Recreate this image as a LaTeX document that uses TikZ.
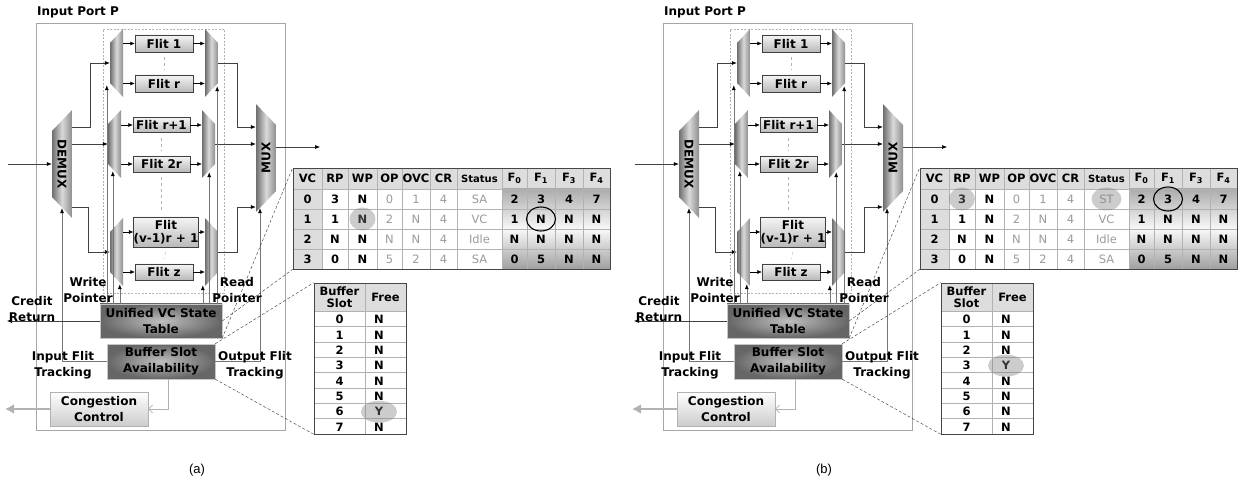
\documentclass[tikz,border=0pt]{standalone}
\usepackage{fontspec}
\setmainfont{DejaVu Sans}
\newfontfamily\capfont{Liberation Sans}
\usetikzlibrary{arrows.meta,positioning,shapes.geometric}
\definecolor{portline}{HTML}{A6A6A6}
\definecolor{wiregray}{HTML}{404040}
\definecolor{ptrline}{HTML}{767676}
\definecolor{cellfill}{HTML}{DDDDDD}
\definecolor{softtext}{HTML}{9A9A9A}
\definecolor{metal}{HTML}{6E6E6E}
\definecolor{metalr}{HTML}{8E8E8E}

\begin{document}
\begin{tikzpicture}[x=1pt, y=-1pt, font=\fontsize{12}{16}\selectfont\bfseries,
  portbox/.style={draw=portline, line width=0.8pt},
  vcbox/.style={draw=gray!60, line width=0.5pt, dash pattern=on 2pt off 1.5pt},
  flit/.style={draw=wiregray, top color=gray!8, bottom color=gray!55, minimum width=58pt, minimum height=17pt, inner sep=0pt, align=center},
  dmx/.style={minimum width=13pt, minimum height=68pt, inner sep=0pt, path picture={\shade[left color=metal, right color=metalr, middle color=gray!30] ([yshift=-#1]path picture bounding box.north west) -- (path picture bounding box.north east) -- (path picture bounding box.south east) -- ([yshift=#1]path picture bounding box.south west) -- cycle;}},
  mx/.style={minimum width=13pt, minimum height=68pt, inner sep=0pt, path picture={\shade[left color=metal, right color=metalr, middle color=gray!30] (path picture bounding box.north west) -- ([yshift=-#1]path picture bounding box.north east) -- ([yshift=#1]path picture bounding box.south east) -- (path picture bounding box.south west) -- cycle;}},
  darkbox/.style={draw=gray!45, inner color=gray!50, outer color=gray!80!black, align=center, inner sep=1pt},
  lightbox/.style={draw=gray!60, top color=white, bottom color=gray!40, align=center, inner sep=1pt},
  wire/.style={draw=wiregray, line width=0.6pt, -{Latex[length=5pt,width=4pt,color=black]}},
  tip/.style={draw=black, line width=0.5pt, -{Latex[length=4.5pt,width=4pt]}},
  ptr/.style={draw=ptrline, line width=0.6pt, -{Latex[length=5pt,width=4pt,color=black]}},
  flitgap/.style={draw=gray!60, dashed, shorten <=5pt, shorten >=5pt},
  openarr/.style={draw=gray!60, line width=0.6pt, -{Straight Barb[length=4pt,width=8pt]}},
  fatarr/.style={draw=gray!60, line width=2.6pt, -{Latex[length=9pt,width=10pt]}},
  tblline/.style={draw=gray!60, line width=0.5pt},
  tbl/.style={draw=gray!55!black, line width=0.6pt},
  tcell/.style={inner sep=0pt, font=\fontsize{11.5}{13}\selectfont\bfseries},
  tsoft/.style={inner sep=0pt, font=\fontsize{11.5}{13}\selectfont, text=softtext},
  hlfill/.style={ellipse, fill=gray, fill opacity=0.4, minimum width=26pt, minimum height=23pt, inner sep=0pt},
  hlring/.style={ellipse, draw=black, line width=1.1pt, minimum width=29pt, minimum height=24pt, inner sep=0pt},
  callout/.style={draw=gray!40!black, densely dashed, line width=0.4pt},
  lbl/.style={align=center, inner sep=0pt}]
\useasboundingbox (0,0) rectangle (1254,489);
\foreach \p/\dx/\st/\fy in {a/0/SA/6, b/627/ST/3}{
\begin{scope}[xshift=\dx pt]
% port frame
\node[portbox, minimum width=249pt, minimum height=407pt] (\p-port) at (160.5,226.5) {};
\node[vcbox, minimum width=121pt, minimum height=264pt] (\p-vcbuf) at (163.5,161) {};
\node[anchor=west, inner sep=0pt] (\p-title) at (37,12) {Input Port P};
% demux and mux
\node[dmx=21pt, minimum width=20pt, minimum height=108pt] (\p-demux) at (62,164) {\rotatebox{-90}{DEMUX}};
\node[mx=21pt, minimum width=20pt, minimum height=108pt] (\p-mux) at (266,158) {\rotatebox{90}{MUX}};
\node[dmx=14pt] (\p-d1) at (116.5,63) {};
\node[dmx=14pt] (\p-d2) at (114.5,144) {};
\node[dmx=14pt] (\p-d3) at (116.5,252) {};
\node[mx=14pt] (\p-m1) at (211.5,63) {};
\node[mx=14pt] (\p-m2) at (208.5,144) {};
\node[mx=14pt] (\p-m3) at (211.5,252) {};
% flit slots
\node[flit] (\p-f1) at (164,43.5) {Flit 1};
\node[flit] (\p-fr) at (164,83.5) {Flit r};
\node[flit, minimum width=57pt, minimum height=15pt] (\p-fr1) at (161.5,125) {Flit r+1};
\node[flit, minimum width=57pt, minimum height=16pt] (\p-f2r) at (161.5,164) {Flit 2r};
\node[flit, minimum width=64pt, minimum height=30pt, font=\fontsize{12}{13}\selectfont\bfseries] (\p-fv) at (166,232) {Flit\\(v-1)r + 1};
\node[flit, minimum height=16pt] (\p-fz) at (164,272) {Flit z};
\foreach \d/\f/\m in {d1/f1/m1, d1/fr/m1, d2/fr1/m2, d2/f2r/m2, d3/fv/m3, d3/fz/m3}{
  \draw[tip] (\p-\d.east |- \p-\f.west) -- (\p-\f.west);
  \draw[tip] (\p-\f.east) -- (\p-\f.east -| \p-\m.west);
}
\foreach \u/\v in {f1/fr, fr1/f2r, fv/fz} \draw[flitgap] (\p-\u.south) -- (\p-\v.north);
\draw[flitgap] (\p-f2r.south) -- (\p-f2r.south |- \p-fv.north);
% data path
\coordinate (\p-in) at (8,164);
\coordinate (\p-out) at (320,147);
\draw[wire] (\p-in) -- (\p-demux.west);
\draw[wire] ([yshift=37pt]\p-demux.east) -| ([xshift=-20pt]\p-d1.west) -- (\p-d1.west);
\draw[wire] (\p-d2.west -| \p-demux.east) -- (\p-d2.west);
\draw[wire] ([yshift=-43pt]\p-demux.east) -| ([xshift=-22pt]\p-d3.west) -- (\p-d3.west);
\draw[wire] (\p-m1.east) -- ++(19,0) |- ([yshift=31pt]\p-mux.west);
\draw[wire] (\p-m2.east) -- (\p-m2.east -| \p-mux.west);
\draw[wire] (\p-m3.east) -- ++(19,0) |- ([yshift=-49pt]\p-mux.west);
\draw[wire] (\p-mux.east |- \p-out) -- (\p-out);
% control
\node[darkbox, minimum width=122pt, minimum height=34pt] (\p-vcs) at (161,321) {Unified VC State\\Table};
\node[darkbox, minimum width=108pt, minimum height=35pt] (\p-bsa) at (161,361.5) {Buffer Slot\\Availability};
\node[lightbox, minimum width=98pt, minimum height=34pt] (\p-cc) at (99,409) {Congestion\\Control};
\draw[ptr] ([xshift=-3pt]\p-d1.south west |- \p-vcs.north) -- ([xshift=-3pt,yshift=12pt]\p-d1.south west);
\draw[ptr] ([xshift=5pt]\p-d2.south west |- \p-vcs.north) -- ([xshift=5pt,yshift=7pt]\p-d2.south west);
\draw[ptr] ([xshift=10pt]\p-d3.south west |- \p-vcs.north) -- ([xshift=10pt,yshift=2pt]\p-d3.south west);
\draw[ptr] ([xshift=-1pt]\p-m1.south east |- \p-vcs.north) -- ([xshift=-1pt,yshift=11pt]\p-m1.south east);
\draw[ptr] ([xshift=-6pt]\p-m2.south east |- \p-vcs.north) -- ([xshift=-6pt,yshift=6pt]\p-m2.south east);
\draw[ptr] ([xshift=-2pt]\p-m3.south west |- \p-vcs.north) -- ([xshift=-2pt,yshift=1pt]\p-m3.south west);
\draw[ptr] (\p-bsa.west) -| ([yshift=10pt]\p-demux.south);
\draw[ptr] (\p-bsa.east) -| ([xshift=-6pt,yshift=4pt]\p-mux.south);
\coordinate (\p-cr) at (7,321);
\draw[wire] (\p-vcs.west) -- (\p-cr);
\draw[openarr] ([xshift=7pt]\p-bsa.south) |- (\p-cc.east);
\coordinate (\p-cg) at (5,409);
\draw[fatarr] (\p-cc.west) -- (\p-cg);
\node[lbl] (\p-wp) at (88,290) {Write\\Pointer};
\node[lbl] (\p-rp) at (237,290) {Read\\Pointer};
\node[lbl] (\p-crl) at (32,309) {Credit\\Return};
\node[lbl] (\p-ift) at (63,365) {Input Flit\\Tracking};
\node[lbl] (\p-oft) at (255,365) {Output Flit\\Tracking};
% VC state table
\fill[cellfill] (293,168) rectangle (610,189);
\fill[cellfill] (293,189) rectangle (322,269);
\shade[top color=gray!65, bottom color=gray!75, middle color=gray!5] (502,189) rectangle (610,269);
\foreach \x in {322,348,377,402,430,457,502,527,555,583} \draw[tblline] (\x,168) -- (\x,269);
\foreach \y in {189,209,229,249} \draw[tblline] (293,\y) -- (610,\y);
\node[tbl, minimum width=317pt, minimum height=101pt] (\p-tbl) at (451.5,218.5) {};
\foreach \h/\x [count=\c] in {VC/307.5, RP/335, WP/362.5, OP/389.5, OVC/416, CR/443.5, {\fontsize{10}{12}\selectfont Status}/479.5, F\textsubscript{0}/514.5, F\textsubscript{1}/541, F\textsubscript{3}/569, F\textsubscript{4}/596.5}
  \node[tcell] (\p-h\c) at (\x,178.5) {\h};
\foreach \y [count=\r from 0] in {199,219,239,259} \coordinate (\p-r\r) at (0,\y);
\foreach \r/\vals in {0/{0,3,N,0,1,4,\st,2,3,4,7}, 1/{1,1,N,2,N,4,VC,1,N,N,N}, 2/{2,N,N,N,N,4,Idle,N,N,N,N}, 3/{3,0,N,5,2,4,SA,0,5,N,N}}{
  \foreach \v [count=\c] in \vals {
    \ifnum\c>3 \ifnum\c<8 \def\cs{tsoft}\else\def\cs{tcell}\fi\else\def\cs{tcell}\fi
    \node[\cs] (\p-\r-\c) at (\p-h\c |- \p-r\r) {\v};
  }
}
% buffer slot table
\fill[cellfill] (314,283) rectangle (406,311);
\foreach \k in {0,...,7} \draw[tblline] (314,{311+\k*15.375}) -- (406,{311+\k*15.375});
\draw[tblline] (365,283) -- (365,434);
\node[tbl, minimum width=92pt, minimum height=151pt] (\p-buf) at (360,358.5) {};
\node[tcell, align=center, font=\fontsize{11.5}{12}\selectfont\bfseries] (\p-bh1) at (339.5,297) {Buffer\\Slot};
\node[tcell] (\p-bh2) at (385.5,297) {Free};
\foreach \k in {0,...,7}{
  \node[tcell] (\p-slot\k) at (339.5,{319.5+\k*15.375}) {\k};
  \node[tcell] (\p-free\k) at (379,{319.5+\k*15.375}) {\ifnum\k=\fy Y\else N\fi};
}
\node[hlfill, minimum width=36pt, minimum height=22pt] (\p-ymark) at (\p-free\fy) {};
\draw[callout] (\p-vcs.south east) -- (\p-tbl.north west);
\draw[callout] (\p-vcs.east) -- (\p-tbl.south west);
\draw[callout] (\p-bsa.north east) -- (\p-buf.north west);
\draw[callout] (\p-bsa.south east) -- (\p-buf.south west);
\node[font=\capfont\fontsize{13}{15}\selectfont] (\p-cap) at (197,470) {(\p)};
\end{scope}}
% marks that differ between (a) and (b)
\node[hlfill] (a-wpmark) at (a-1-3) {};
\node[hlring] (a-fmark) at (a-1-9) {};
\node[hlfill] (b-rpmark) at (b-0-2) {};
\node[hlfill, minimum width=30pt] (b-stmark) at (b-0-7) {};
\node[hlring] (b-fmark) at (b-0-9) {};
\end{tikzpicture}
\end{document}
